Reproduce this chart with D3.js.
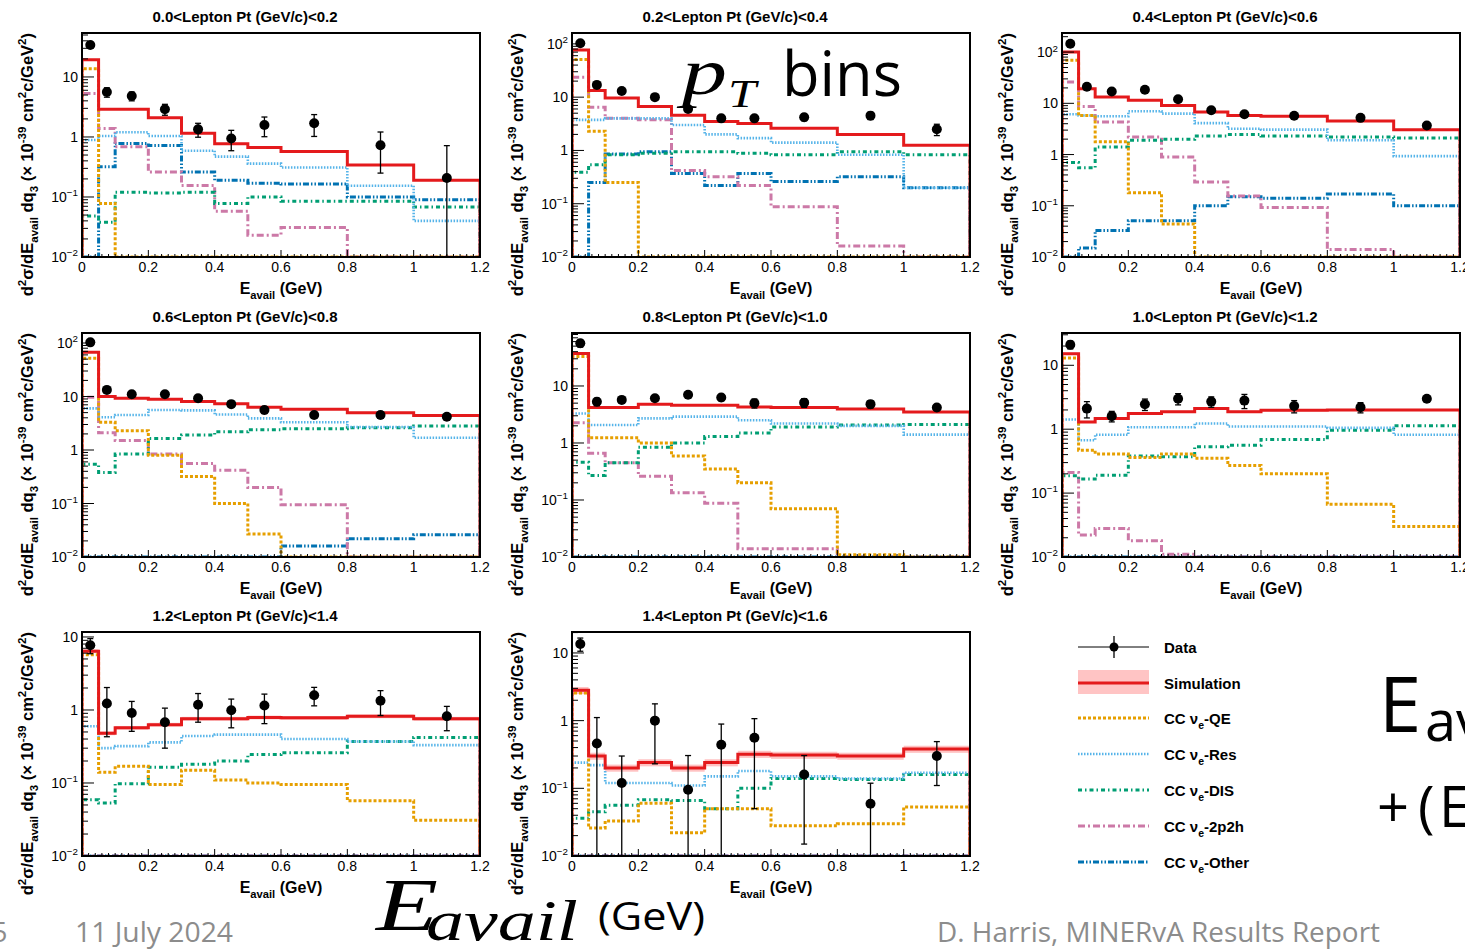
<!DOCTYPE html>
<html lang="en">
<head>
<meta charset="UTF-8">
<title>MINERvA nu_e Eavail in pT bins</title>
<script src="https://d3js.org/d3.v7.min.js"></script>
<style>
  body { margin: 0; background: #fff; }
  svg { display: block; }
</style>
</head>
<body>
<svg width="1465" height="952"></svg>
<script>
// bin edges and centres in E_avail (GeV)
const binEdges = [0, 0.05, 0.1, 0.2, 0.3, 0.4, 0.5, 0.6, 0.8, 1.0, 1.2];
const binCenters = [0.025, 0.075, 0.15, 0.25, 0.35, 0.45, 0.55, 0.7, 0.9, 1.1];
const xTicks = [0, 0.2, 0.4, 0.6, 0.8, 1, 1.2];

const panelTitles = [
  "0.0<Lepton Pt (GeV/c)<0.2", "0.2<Lepton Pt (GeV/c)<0.4", "0.4<Lepton Pt (GeV/c)<0.6",
  "0.6<Lepton Pt (GeV/c)<0.8", "0.8<Lepton Pt (GeV/c)<1.0", "1.0<Lepton Pt (GeV/c)<1.2",
  "1.2<Lepton Pt (GeV/c)<1.4", "1.4<Lepton Pt (GeV/c)<1.6"
];
const yMin = 0.01;
const yMax = [54, 160, 236, 154, 85, 32, 11.7, 20.4];
const yTickSets = [
  [0.01, 0.1, 1, 10], [0.01, 0.1, 1, 10, 100], [0.01, 0.1, 1, 10, 100],
  [0.01, 0.1, 1, 10, 100], [0.01, 0.1, 1, 10], [0.01, 0.1, 1, 10],
  [0.01, 0.1, 1, 10], [0.01, 0.1, 1, 10]
];

// data points and errors
const dataVals = [
  [34, 5.6, 4.8, 2.9, 1.34, 0.94, 1.58, 1.69, 0.73, 0.207],
  [103, 17, 13, 10, 6, 4.0, 4.0, 4.2, 4.5, 2.5],
  [145, 21, 17, 18.4, 12, 7.3, 6.1, 5.7, 5.2, 3.7],
  [103, 13.3, 11, 11, 9.3, 7.2, 5.6, 4.5, 4.5, 4.2],
  [56, 5.3, 5.7, 6.1, 7.0, 6.3, 5.0, 5.1, 4.8, 4.2],
  [21, 2.1, 1.6, 2.46, 3.0, 2.7, 2.8, 2.3, 2.2, 3.0],
  [7.7, 1.23, 0.91, 0.68, 1.18, 0.99, 1.15, 1.59, 1.34, 0.82],
  [13.6, 0.46, 0.12, 1.0, 0.095, 0.44, 0.56, 0.16, 0.059, 0.3]
];
const dataErr = [
  [4, 1.0, 0.8, 0.6, 0.35, 0.35, 0.57, 0.67, 0.48, 0.51],
  [10, 2, 1.3, 1.0, 0.8, 0.4, 0.4, 0.6, 0.7, 0.6],
  [12, 2, 1.5, 1.5, 1.0, 0.6, 0.5, 0.5, 0.5, 0.4],
  [8, 1.5, 1.0, 1.0, 0.8, 0.8, 0.8, 0.6, 0.6, 0.5],
  [8, 0.8, 0.6, 0.7, 0.8, 0.8, 0.9, 0.9, 0.7, 0.5],
  [3, 0.6, 0.3, 0.5, 0.6, 0.5, 0.7, 0.5, 0.4, 0.3],
  [1.8, 0.8, 0.4, 0.38, 0.5, 0.42, 0.5, 0.45, 0.5, 0.3],
  [3, 0.65, 0.18, 0.77, 0.21, 0.45, 0.51, 0.145, 0.06, 0.19]
];

// simulation total and its band (fractional)
const simVals = [
  [19.4, 2.9, 2.9, 2.09, 1.15, 0.77, 0.67, 0.57, 0.34, 0.19],
  [77, 13.3, 9.6, 6.7, 4.6, 3.5, 3.2, 2.6, 2.0, 1.25],
  [100, 19.3, 13.3, 11.5, 9.1, 6.8, 5.8, 5.6, 4.5, 3.06],
  [67, 10, 9.3, 8.9, 8.1, 7.3, 6.3, 5.8, 5.0, 4.4],
  [37, 4.2, 4.2, 4.8, 4.6, 4.6, 4.3, 4.2, 3.95, 3.5],
  [15.2, 1.3, 1.47, 1.76, 1.87, 2.1, 1.87, 1.98, 2.0, 2.0],
  [6.4, 0.48, 0.57, 0.63, 0.76, 0.76, 0.79, 0.78, 0.82, 0.76],
  [2.8, 0.3, 0.2, 0.24, 0.2, 0.24, 0.32, 0.31, 0.3, 0.38]
];
const simBandFrac = [0.03, 0.03, 0.03, 0.03, 0.03, 0.04, 0.06, 0.12];

// components
const qeVals = [
  [13.7, 0.078, 0, 0, 0, 0, 0, 0, 0, 0],
  [51, 2.3, 0.25, 0, 0, 0, 0, 0, 0, 0],
  [69, 5.8, 1.77, 0.18, 0.044, 0, 0, 0, 0, 0],
  [52, 3.3, 2.3, 0.8, 0.32, 0.1, 0.027, 0, 0, 0],
  [33, 1.24, 1.24, 1.0, 0.59, 0.35, 0.2, 0.07, 0.011, 0],
  [13, 0.47, 0.41, 0.36, 0.41, 0.35, 0.27, 0.2, 0.067, 0.03],
  [5.7, 0.14, 0.17, 0.095, 0.15, 0.11, 0.1, 0.095, 0.057, 0.031],
  [2.56, 0.026, 0.033, 0.06, 0.022, 0.05, 0.05, 0.028, 0.03, 0.053]
];
const resVals = [
  [0.89, 1.04, 1.2, 1.04, 0.59, 0.47, 0.36, 0.31, 0.154, 0.04],
  [3.75, 3.75, 4.0, 4.0, 3.0, 2.0, 1.7, 1.4, 0.83, 0.2],
  [6.1, 5.8, 5.6, 7.0, 6.3, 4.1, 3.2, 3.06, 1.9, 0.93],
  [6.0, 4.1, 4.5, 5.6, 5.5, 4.6, 3.9, 3.3, 2.7, 1.7],
  [3.3, 2.07, 2.07, 2.7, 2.9, 2.9, 2.5, 2.2, 2.0, 1.4],
  [1.42, 0.67, 0.82, 1.07, 1.07, 1.23, 1.1, 1.1, 1.05, 0.82],
  [0.6, 0.3, 0.32, 0.36, 0.44, 0.46, 0.46, 0.4, 0.37, 0.33],
  [0.24, 0.22, 0.12, 0.12, 0.11, 0.15, 0.18, 0.15, 0.14, 0.17]
];
const disVals = [
  [0.048, 0.038, 0.12, 0.117, 0.12, 0.078, 0.1, 0.085, 0.085, 0.068],
  [0.39, 0.54, 0.83, 0.89, 0.95, 0.95, 0.89, 0.83, 0.95, 0.83],
  [0.7, 0.55, 1.4, 1.9, 2.0, 2.3, 2.45, 2.3, 2.2, 2.1],
  [0.54, 0.38, 0.84, 1.64, 1.9, 2.2, 2.4, 2.5, 2.6, 2.8],
  [0.46, 0.27, 0.45, 0.84, 1.0, 1.3, 1.5, 1.9, 2.07, 2.1],
  [0.186, 0.166, 0.19, 0.38, 0.37, 0.53, 0.56, 0.69, 0.96, 1.13],
  [0.059, 0.053, 0.098, 0.164, 0.18, 0.2, 0.245, 0.26, 0.37, 0.42],
  [0.036, 0.045, 0.056, 0.068, 0.066, 0.05, 0.1, 0.14, 0.135, 0.16]
];
const twoP2hVals = [
  [5.3, 1.39, 0.69, 0.26, 0.156, 0.058, 0.023, 0.031, 0, 0],
  [23.7, 6.5, 4.0, 3.75, 0.42, 0.32, 0.22, 0.088, 0.016, 0],
  [26, 8.7, 4.3, 2.2, 0.9, 0.29, 0.155, 0.093, 0.014, 0],
  [9.7, 2.1, 1.5, 0.84, 0.56, 0.42, 0.2, 0.095, 0, 0],
  [2.27, 0.66, 0.45, 0.26, 0.134, 0.088, 0.014, 0.014, 0, 0],
  [0.21, 0.022, 0.028, 0.018, 0.011, 0, 0, 0, 0, 0],
  [0, 0, 0, 0, 0, 0, 0, 0, 0, 0],
  [0, 0, 0, 0, 0, 0, 0, 0, 0, 0]
];
const otherVals = [
  [0, 0.32, 0.78, 0.72, 0.26, 0.19, 0.17, 0.165, 0.1, 0.09],
  [0, 0.25, 0.86, 0.95, 0.37, 0.22, 0.37, 0.26, 0.32, 0.2],
  [0, 0.015, 0.033, 0.051, 0.051, 0.1, 0.15, 0.14, 0.17, 0.1],
  [0, 0, 0, 0, 0, 0, 0, 0.016, 0.022, 0.026],
  [0, 0, 0, 0, 0, 0, 0, 0, 0, 0],
  [0, 0, 0, 0, 0, 0, 0, 0, 0, 0],
  [0, 0, 0, 0, 0, 0, 0, 0, 0, 0],
  [0, 0, 0, 0, 0, 0, 0, 0, 0, 0]
];

const components = [
  {name: "Other", vals: otherVals, color: "#0072b2", dash: "6,2,1.5,2,1.5,2", width: 3},
  {name: "2p2h",  vals: twoP2hVals, color: "#cc79a7", dash: "7,3,2,3", width: 3},
  {name: "DIS",   vals: disVals, color: "#009e73", dash: "4,3,1.5,3", width: 3},
  {name: "Res",   vals: resVals, color: "#56b4e9", dash: "1.5,1.5", width: 2.6},
  {name: "QE",    vals: qeVals, color: "#e69f00", dash: "3,2", width: 3}
];

const font = "'Liberation Sans', Arial, Helvetica, sans-serif";
const svg = d3.select("svg");
svg.append("rect").attr("width", 1465).attr("height", 952).attr("fill", "#fff");

// text with sup/sub pieces
function richText(sel, parts, size) {
  let shift = 0;
  parts.forEach(([t, kind]) => {
    const target = kind === "sup" ? -0.4 * size : kind === "sub" ? 0.3 * size : 0;
    sel.append("tspan")
      .attr("dy", target - shift)
      .attr("font-size", kind ? size * 0.7 : size)
      .text(t);
    shift = target;
  });
}

function tickParts(v) {
  if (v === 1) return [["1", null]];
  if (v === 10) return [["10", null]];
  const e = Math.round(Math.log10(v));
  return [["10", null], [e < 0 ? "\u2212" + (-e) : String(e), "sup"]];
}

const padX = [0, 490, 980];
const padY = [0, 300, 599];

panelTitles.forEach((title, i) => {
  const px = padX[i % 3], py = padY[Math.floor(i / 3)];
  const L = px + 82, R = px + 480, T = py + 33, B = py + 257;
  const g = svg.append("g");

  const x = d3.scaleLinear().domain([0, 1.2]).range([L, R]);
  const y = d3.scaleLog().domain([yMin, yMax[i]]).range([B, T]);
  const yc = v => y(Math.max(v, yMin));

  const clipId = "clip" + i;
  svg.append("clipPath").attr("id", clipId)
    .append("rect").attr("x", L).attr("y", T).attr("width", R - L).attr("height", B - T);
  const plot = g.append("g").attr("clip-path", `url(#${clipId})`);

  // simulation band
  plot.selectAll(".band").data(simVals[i]).join("rect")
    .attr("x", (d, k) => x(binEdges[k]))
    .attr("width", (d, k) => x(binEdges[k + 1]) - x(binEdges[k]))
    .attr("y", d => yc(d * (1 + simBandFrac[i])))
    .attr("height", d => yc(d * (1 - simBandFrac[i])) - yc(d * (1 + simBandFrac[i])))
    .attr("fill", "#ffb3b3").attr("opacity", 0.8);

  const histPath = vals => {
    const pts = [[binEdges[0], yMin]];
    vals.forEach((v, k) => { pts.push([binEdges[k], v]); pts.push([binEdges[k + 1], v]); });
    pts.push([binEdges[binEdges.length - 1], yMin]);
    return d3.line().x(p => x(p[0])).y(p => yc(p[1]))(pts);
  };

  components.forEach(c => {
    plot.append("path").attr("d", histPath(c.vals[i]))
      .attr("fill", "none").attr("stroke", c.color)
      .attr("stroke-width", c.width).attr("stroke-dasharray", c.dash);
  });

  plot.append("path").attr("d", histPath(simVals[i]))
    .attr("fill", "none").attr("stroke", "#e41a1c").attr("stroke-width", 3);

  // data
  const pts = dataVals[i].map((v, k) => ({x: binCenters[k], v, e: dataErr[i][k]}));
  const dg = plot.selectAll(".pt").data(pts).join("g");
  dg.append("line")
    .attr("x1", d => x(d.x)).attr("x2", d => x(d.x))
    .attr("y1", d => yc(d.v + d.e)).attr("y2", d => yc(d.v - d.e))
    .attr("stroke", "#000").attr("stroke-width", 1.3);
  dg.append("line")
    .attr("x1", d => x(d.x) - 3).attr("x2", d => x(d.x) + 3)
    .attr("y1", d => yc(d.v + d.e)).attr("y2", d => yc(d.v + d.e))
    .attr("stroke", "#000").attr("stroke-width", 1.3);
  dg.filter(d => d.v - d.e > yMin).append("line")
    .attr("x1", d => x(d.x) - 3).attr("x2", d => x(d.x) + 3)
    .attr("y1", d => yc(d.v - d.e)).attr("y2", d => yc(d.v - d.e))
    .attr("stroke", "#000").attr("stroke-width", 1.3);
  dg.append("circle").attr("cx", d => x(d.x)).attr("cy", d => yc(d.v))
    .attr("r", 5).attr("fill", "#000");

  // frame
  g.append("rect").attr("x", L).attr("y", T).attr("width", R - L).attr("height", B - T)
    .attr("fill", "none").attr("stroke", "#000").attr("stroke-width", 2);

  // y ticks (log, inward)
  const lo = Math.log10(yMin), hi = Math.ceil(Math.log10(yMax[i]));
  for (let e = lo; e < hi; e++) {
    for (let m = 1; m <= 9; m++) {
      const v = m * Math.pow(10, e);
      if (v > yMax[i]) break;
      const len = m === 1 ? 12 : 6;
      g.append("line").attr("x1", L).attr("x2", L + len)
        .attr("y1", y(v)).attr("y2", y(v)).attr("stroke", "#000").attr("stroke-width", 1);
    }
  }
  yTickSets[i].forEach(v => {
    const t = g.append("text").attr("x", L - 4).attr("y", y(v) + 5)
      .attr("text-anchor", "end").attr("font-family", font).attr("font-size", 14);
    richText(t, tickParts(v), 14);
  });

  // x ticks: primary every 0.2, secondary every 0.02
  d3.range(0, 61).forEach(k => {
    const v = k * 0.02;
    const major = k % 10 === 0;
    g.append("line").attr("x1", x(v)).attr("x2", x(v))
      .attr("y1", B).attr("y2", B - (major ? 7 : 3)).attr("stroke", "#000").attr("stroke-width", 1);
  });
  xTicks.forEach(v => {
    g.append("text").attr("x", x(v)).attr("y", B + 15).attr("text-anchor", "middle")
      .attr("font-family", font).attr("font-size", 14).text(String(v));
  });

  // titles
  g.append("text").attr("x", px + 245).attr("y", py + 22).attr("text-anchor", "middle")
    .attr("font-family", font).attr("font-weight", "bold").attr("font-size", 15).text(title);

  const xt = g.append("text").attr("x", (L + R) / 2).attr("y", B + 37).attr("text-anchor", "middle")
    .attr("font-family", font).attr("font-weight", "bold").attr("font-size", 16);
  richText(xt, [["E", null], ["avail", "sub"], [" (GeV)", null]], 16);

  const yt = g.append("text").attr("transform", `translate(${px + 33},${T}) rotate(-90)`)
    .attr("text-anchor", "end").attr("font-family", font).attr("font-weight", "bold").attr("font-size", 16.5);
  richText(yt, [["d", null], ["2", "sup"], ["\u03c3/dE", null], ["avail", "sub"], [" dq", null], ["3", "sub"],
    [" (\u00d7 10", null], ["-39", "sup"], [" cm", null], ["2", "sup"], ["c/GeV", null], ["2", "sup"], [")", null]], 16.5);
});

// legend
const legendItems = [
  {label: "Data", y: 647, kind: "data"},
  {label: "Simulation", y: 683, kind: "sim"},
  {label: "QE", y: 718, comp: "QE"},
  {label: "Res", y: 754, comp: "Res"},
  {label: "DIS", y: 790, comp: "DIS"},
  {label: "2p2h", y: 826, comp: "2p2h"},
  {label: "Other", y: 862, comp: "Other"}
];
const lg = svg.append("g");
legendItems.forEach(it => {
  const x0 = 1078, x1 = 1149;
  if (it.kind === "data") {
    lg.append("line").attr("x1", x0).attr("x2", x1).attr("y1", it.y).attr("y2", it.y)
      .attr("stroke", "#000").attr("stroke-width", 1);
    lg.append("line").attr("x1", 1114).attr("x2", 1114).attr("y1", it.y - 11).attr("y2", it.y + 11)
      .attr("stroke", "#000").attr("stroke-width", 1.3);
    lg.append("circle").attr("cx", 1114).attr("cy", it.y).attr("r", 4.5).attr("fill", "#000");
  } else if (it.kind === "sim") {
    lg.append("rect").attr("x", x0).attr("y", it.y - 13).attr("width", x1 - x0).attr("height", 24)
      .attr("fill", "#ffc4c4");
    lg.append("line").attr("x1", x0).attr("x2", x1).attr("y1", it.y).attr("y2", it.y)
      .attr("stroke", "#e41a1c").attr("stroke-width", 3);
  } else {
    const c = components.find(d => d.name === it.comp);
    lg.append("line").attr("x1", x0).attr("x2", x1).attr("y1", it.y).attr("y2", it.y)
      .attr("stroke", c.color).attr("stroke-width", c.width).attr("stroke-dasharray", c.dash);
  }
  const t = lg.append("text").attr("x", 1164).attr("y", it.y + 6)
    .attr("font-family", font).attr("font-weight", "bold").attr("font-size", 15);
  if (it.comp) richText(t, [["CC  \u03bd", null], ["e", "sub"], ["-" + it.label, null]], 15);
  else t.text(it.label);
});

// slide overlay text
const serif = "'Liberation Serif', 'DejaVu Serif', serif";
const sans = "'Open Sans', 'Noto Sans', sans-serif";
const ov = svg.append("g");
ov.append("text").attr("x", 682).attr("y", 94).attr("font-family", serif).attr("font-style", "italic")
  .attr("font-size", 66).attr("textLength", 45).attr("lengthAdjust", "spacingAndGlyphs").text("p");
ov.append("text").attr("x", 728).attr("y", 107).attr("font-family", serif).attr("font-style", "italic")
  .attr("font-size", 40).attr("textLength", 28).attr("lengthAdjust", "spacingAndGlyphs").text("T");
ov.append("text").attr("x", 782).attr("y", 96).attr("font-family", sans)
  .attr("font-size", 62).attr("textLength", 120).attr("lengthAdjust", "spacingAndGlyphs").text("bins");

ov.append("text").attr("x", 376).attr("y", 930).attr("font-family", serif).attr("font-style", "italic")
  .attr("font-size", 74).attr("textLength", 62).attr("lengthAdjust", "spacingAndGlyphs").text("E");
ov.append("text").attr("x", 426).attr("y", 940).attr("font-family", serif).attr("font-style", "italic")
  .attr("font-size", 58).attr("textLength", 152).attr("lengthAdjust", "spacingAndGlyphs").text("avail");
ov.append("text").attr("x", 598).attr("y", 930).attr("font-family", sans)
  .attr("font-size", 38).attr("textLength", 107).attr("lengthAdjust", "spacingAndGlyphs").text("(GeV)");

ov.append("text").attr("x", 1379).attr("y", 732).attr("font-family", sans)
  .attr("font-size", 76).text("E");
ov.append("text").attr("x", 1425).attr("y", 741).attr("font-family", sans)
  .attr("font-size", 56).text("av");
ov.append("text").attr("x", 1377).attr("y", 827).attr("font-family", sans)
  .attr("font-size", 56).text("+");
ov.append("text").attr("x", 1418).attr("y", 827).attr("font-family", sans)
  .attr("font-size", 56).text("(");
ov.append("text").attr("x", 1439).attr("y", 827).attr("font-family", sans)
  .attr("font-size", 56).text("E");

// footer
ov.append("text").attr("x", -8).attr("y", 942).attr("font-family", sans).attr("fill", "#8c8c8c")
  .attr("font-size", 27).text("5");
ov.append("text").attr("x", 75).attr("y", 942).attr("font-family", sans).attr("fill", "#8c8c8c")
  .attr("font-size", 27).attr("textLength", 158).attr("lengthAdjust", "spacingAndGlyphs").text("11 July 2024");
ov.append("text").attr("x", 937).attr("y", 942).attr("font-family", sans).attr("fill", "#8c8c8c")
  .attr("font-size", 27).attr("textLength", 443).attr("lengthAdjust", "spacingAndGlyphs").text("D. Harris, MINERvA Results Report");
</script>
</body>
</html>
